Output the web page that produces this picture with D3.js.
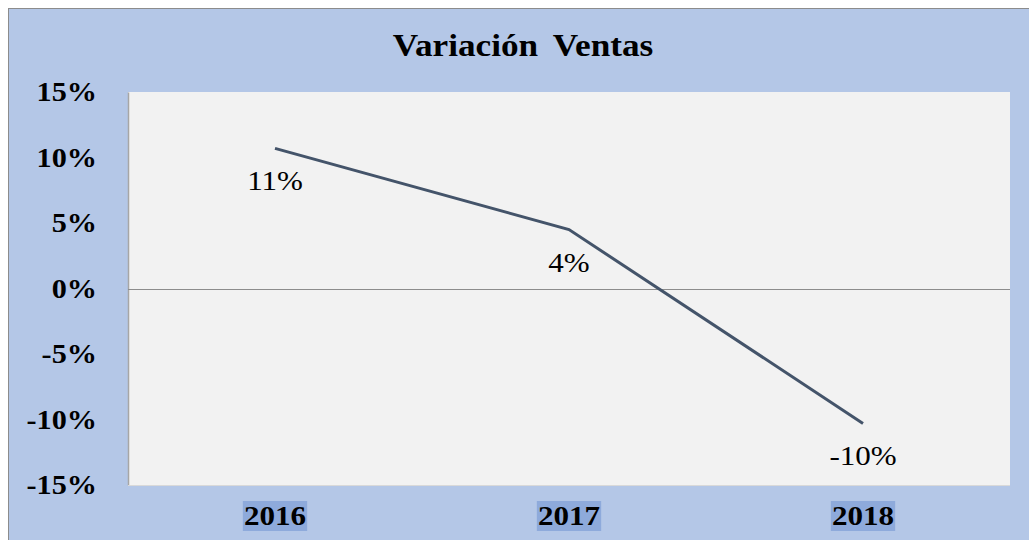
<!DOCTYPE html>
<html><head><meta charset="utf-8">
<script src="https://cdn.jsdelivr.net/npm/d3@7"></script>
<style>body{margin:0;background:#fff;}svg{display:block;}</style>
</head><body>
<svg id="c" width="1029" height="540"></svg>
<script>
const title = "Variación Ventas";
const years = ["2016", "2017", "2018"];
const variation = [0.107, 0.045, -0.103];
const dataLabels = ["11%", "4%", "-10%"];
const yTicks = [-0.15, -0.10, -0.05, 0, 0.05, 0.10, 0.15];
const yTickLabels = ["-15%", "-10%", "-5%", "0%", "5%", "10%", "15%"];

const svg = d3.select("#c");
const W = 1029, H = 540;
const plot = {l: 128, t: 92, r: 1010, b: 485};
const serif = "'Liberation Serif','Times New Roman',serif";
const SX = 1.12;

svg.append("rect").attr("x", 8.5).attr("y", 8.5).attr("width", W).attr("height", H)
  .attr("fill", "#b4c7e7").attr("stroke", "#8c8c8c").attr("stroke-width", 1);

svg.append("rect").attr("x", plot.l).attr("y", plot.t)
  .attr("width", plot.r - plot.l).attr("height", plot.b - plot.t).attr("fill", "#f2f2f2");

const x = d3.scaleBand().domain(years).range([plot.l, plot.r]);
const y = d3.scaleLinear().domain([-0.15, 0.15]).range([plot.b, plot.t]);

function stretched(parent, px, py, str, opts) {
  const g = parent.append("g").attr("transform", `translate(${px},${py}) scale(${opts.sx || SX},1)`);
  const t = g.append("text").attr("x", 0).attr("y", 0)
    .attr("text-anchor", opts.anchor || "middle")
    .attr("font-family", serif).attr("font-weight", opts.bold ? "bold" : "normal")
    .attr("font-size", opts.size).attr("fill", "#000").text(str);
  if (opts.ws) t.attr("word-spacing", opts.ws);
  return {g, t};
}

// y axis
const yAxis = d3.axisLeft(y).tickValues(yTicks).tickFormat("").tickSize(0);
const gy = svg.append("g").attr("transform", `translate(${plot.l},0)`).call(yAxis);
gy.select(".domain").attr("stroke", "#a6a6a6").attr("stroke-width", 1.5);
yTicks.forEach((v, i) => {
  stretched(svg, 97, y(v) + 9, yTickLabels[i], {anchor: "end", bold: true, size: 27});
});

// bottom edge
svg.append("line").attr("x1", plot.l).attr("x2", plot.r).attr("y1", plot.b + 0.5).attr("y2", plot.b + 0.5)
  .attr("stroke", "#d9d9d9");

// zero line
svg.append("line").attr("x1", plot.l).attr("x2", plot.r).attr("y1", Math.round(y(0)) + 0.5).attr("y2", Math.round(y(0)) + 0.5)
  .attr("stroke", "#8c8c8c").attr("stroke-width", 1);

// x labels with highlight
const xl = svg.append("g");
years.forEach((yr) => {
  const cx = x(yr) + x.bandwidth() / 2;
  const {g, t} = stretched(xl, cx, 525, yr, {bold: true, size: 27, sx: 1.15});
  const bb = t.node().getBBox();
  g.insert("rect", "text").attr("x", bb.x - 1).attr("y", 501 - 525).attr("width", bb.width + 2).attr("height", 30)
    .attr("fill", "#8eaadb");
});

// line
const line = d3.line().x((d, i) => x(years[i]) + x.bandwidth() / 2).y(d => y(d));
svg.append("path").datum(variation).attr("d", line).attr("fill", "none")
  .attr("stroke", "#44546a").attr("stroke-width", 3);

// data labels
variation.forEach((d, i) => {
  stretched(svg, x(years[i]) + x.bandwidth() / 2, y(d) + 42, dataLabels[i], {size: 27, sx: 1.15});
});

// title
stretched(svg, 523, 56, title, {bold: true, size: 32, sx: 1.1, ws: 6});
</script>
</body></html>
